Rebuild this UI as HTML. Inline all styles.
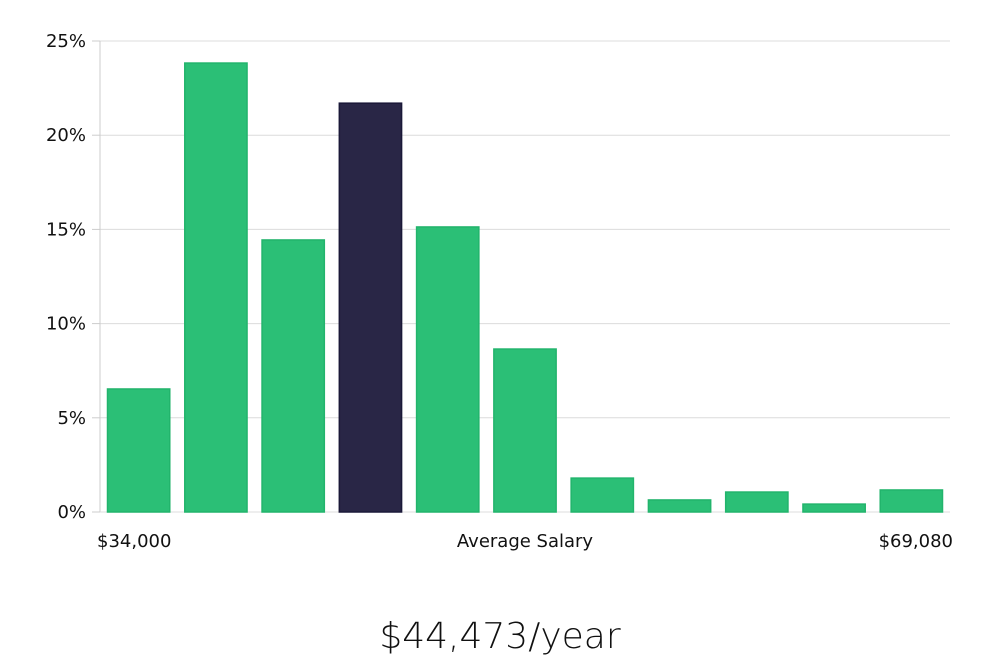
<!DOCTYPE html>
<html><head><meta charset="utf-8"><style>
body{margin:0;background:#fff;width:1000px;height:660px;overflow:hidden}
svg{display:block}
text{font-family:"DejaVu Sans","Liberation Sans",sans-serif;fill:#111}
</style></head><body>
<svg id="chart" width="1000" height="660" viewBox="0 0 1000 660"></svg>
<script>
const categories=["b1","b2","b3","b4","b5","b6","b7","b8","b9","b10","b11"];
const values=[6.53,23.83,14.44,21.7,15.13,8.65,1.8,0.64,1.06,0.42,1.17];
const highlight=[false,false,false,true,false,false,false,false,false,false,false];
const yTicks=[0,5,10,15,20,25];
const yTickLabels=["0%","5%","10%","15%","20%","25%"];
const xLabels=["$34,000","Average Salary","$69,080"];
const title="$44,473/year";
const NS="http://www.w3.org/2000/svg";
const svg=document.getElementById('chart');
const L=100,R=950,T=41,B=512,yMax=25;
const y=v=>B-(v/yMax)*(B-T);
const band=(R-L)/categories.length;
const x=i=>L+i*band;
function mk(tag,attrs,parent){const e=document.createElementNS(NS,tag);for(const k in attrs)e.setAttribute(k,attrs[k]);(parent||svg).appendChild(e);return e;}
yTicks.forEach((t,i)=>{
  if(t>0){const g=mk('line',{x1:L,x2:R,y1:y(t),y2:y(t),stroke:'#dcdcdc','stroke-width':1});
  
  }
  const tk=mk('line',{x1:L-8,x2:L,y1:y(t),y2:y(t),stroke:'#ccc','stroke-width':1});
  
  
  const lb=mk('text',{x:L-14,y:y(t)+6,'text-anchor':'end','font-size':18});
  lb.textContent=yTickLabels[i];
  
  
});
const ax=mk('line',{x1:L,x2:L,y1:T,y2:B,stroke:'#ccc','stroke-width':1});


const bax=mk('line',{x1:L,x2:R,y1:B,y2:B,stroke:'#ddd','stroke-width':1});


values.forEach((v,i)=>{
  const hl=highlight[i];
  const r=mk('rect',{x:x(i)+7.5,y:y(v),width:band-15,height:B-y(v),fill:hl?'#292646':'#2bbf76',stroke:hl?'#1a1838':'#22b46c','stroke-width':1.5});
  
  
});
const xs=[{x:97,a:'start'},{x:525,a:'middle'},{x:953,a:'end'}];
xLabels.forEach((t,i)=>{
  const e=mk('text',{x:xs[i].x,y:547,'text-anchor':xs[i].a,'font-size':18});
  e.textContent=t;
  
  
});
const tt=mk('text',{x:500,y:648,'text-anchor':'middle','font-size':36,'font-family':'"DejaVu Sans Condensed","Liberation Sans Narrow",sans-serif','font-weight':'300'});
tt.textContent=title;


</script>
</body></html>
